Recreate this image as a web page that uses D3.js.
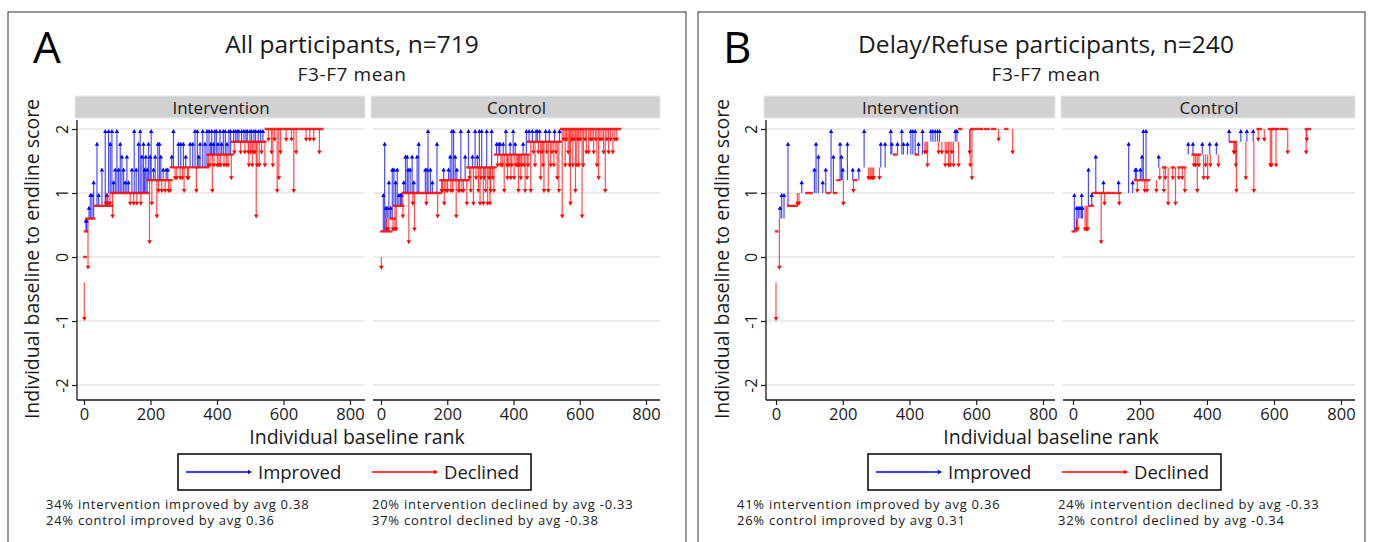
<!DOCTYPE html>
<html>
<head>
<meta charset="utf-8">
<script src="https://cdn.jsdelivr.net/npm/d3@7"></script>
<style>
body{margin:0;background:#fff;}
svg{display:block;font-family:"Open Sans",sans-serif;}
</style>
</head>
<body>
<svg id="chart" width="1373" height="542"></svg>
<script>
// ---- data : [rank, baseline score, endline score]
var aIntArrows = [
 [1,-0.4,-1.0],[6,0.4,0.6],[8,0.4,0.6],[12,0.6,-0.2],[15,0.6,0.8],[19,0.6,1.0],[24,0.6,1.0],[29,0.6,1.2],
 [39,0.8,1.8],[44,0.8,1.0],[54,0.8,1.4],[64,0.8,2.0],[66,1.0,0.8],[69,0.8,1.0],[72,1.0,0.8],[74,1.0,2.0],
 [78,1.0,0.8],[79,1.0,1.8],[84,1.0,2.0],[86,1.0,0.6],[89,1.0,1.2],[94,1.0,1.4],[99,1.0,2.0],[104,1.0,1.4],
 [109,1.0,1.8],[114,1.0,1.6],[119,1.0,1.4],[124,1.0,1.2],[129,1.0,1.6],[134,1.0,1.2],[139,1.0,0.8],[144,1.0,1.4],
 [149,1.0,0.8],[151,1.0,2.0],[157,1.0,1.4],[159,1.0,0.8],[164,1.0,1.8],[169,1.0,2.0],[171,1.0,0.8],[174,1.0,1.6],
 [179,1.0,1.8],[182,1.0,1.4],[186,1.0,1.6],[190,1.0,1.4],[194,1.2,1.8],[197,1.2,0.2],[199,1.2,1.6],[202,1.2,2.0],
 [204,1.2,0.8],[209,1.2,1.4],[214,1.2,1.6],[219,1.2,0.6],[222,1.2,1.8],[224,1.2,1.0],[227,1.2,1.8],[231,1.2,1.6],
 [234,1.2,1.0],[238,1.2,1.4],[244,1.2,1.0],[247,1.2,1.4],[252,1.2,1.4],[254,1.2,1.0],[259,1.2,1.0],
 [264,1.4,1.6],[269,1.4,2.0],[274,1.4,1.2],[279,1.4,1.2],[284,1.4,1.8],[289,1.4,1.2],[291,1.4,1.8],[296,1.4,1.2],
 [299,1.4,1.8],[301,1.4,1.0],[306,1.4,1.6],[311,1.4,1.2],[314,1.4,1.2],[319,1.4,1.8],[327,1.4,1.8],[334,1.4,2.0],
 [338,1.4,1.0],[341,1.4,2.0],[345,1.4,1.6],[349,1.4,1.8],[357,1.4,2.0],[364,1.4,1.8],[370,1.4,2.0],
 [374,1.6,1.4],[376,1.6,2.0],[379,1.6,1.4],[381,1.6,1.8],[384,1.6,2.0],[386,1.6,1.0],[389,1.6,1.8],[391,1.6,1.4],
 [393,1.6,2.0],[398,1.6,2.0],[401,1.6,1.4],[403,1.6,1.8],[406,1.6,1.4],[409,1.6,2.0],[411,1.6,1.4],[414,1.6,1.8],
 [419,1.6,2.0],[421,1.6,1.4],[425,1.6,2.0],[428,1.6,1.4],[430,1.6,1.8],[433,1.6,1.4],[436,1.6,2.0],[441,1.6,2.0],
 [443,1.6,1.2],[450,1.8,2.0],[452,1.8,1.6],[456,1.8,2.0],[461,1.8,2.0],[466,1.8,2.0],[471,1.8,1.6],[474,1.8,2.0],
 [481,1.8,2.0],[484,1.8,1.6],[487,1.8,2.0],[491,1.8,2.0],[494,1.8,1.6],[496,1.8,1.4],[499,1.8,2.0],[501,1.8,1.6],
 [504,1.8,2.0],[506,1.8,1.4],[509,1.8,1.6],[511,1.8,2.0],[514,1.8,1.6],[516,1.8,2.0],[518,1.8,0.6],[521,1.8,1.4],
 [524,1.8,2.0],[527,1.8,1.4],[531,1.8,2.0],[534,1.8,1.6],[538,1.8,2.0],[544,1.8,1.4],
 [555,2.0,1.8],[564,2.0,1.6],[568,2.0,1.4],[573,2.0,1.8],[581,2.0,1.0],[586,2.0,1.2],[591,2.0,1.6],[608,2.0,1.8],
 [624,2.0,1.8],[631,2.0,1.0],[638,2.0,1.6],[668,2.0,1.8],[679,2.0,1.8],[691,2.0,1.8],[708,2.0,1.6]
];
var aCtlArrows = [
 [1,0.0,-0.2],[7,0.4,1.0],[11,0.4,1.8],[15,0.4,0.8],[17,0.6,0.4],[19,0.6,0.8],[22,0.6,0.4],[24,0.6,1.2],
 [29,0.6,0.8],[34,0.6,1.4],[36,0.6,0.4],[39,0.8,1.4],[42,0.8,0.4],[44,0.8,1.2],[46,0.8,0.4],[49,0.8,1.4],
 [54,0.8,1.0],[59,0.8,1.0],[62,0.8,1.0],[66,1.0,0.6],[69,1.0,1.2],[74,1.0,1.6],[79,1.0,1.6],[82,1.0,1.4],
 [84,1.0,0.2],[88,1.0,1.4],[94,1.0,1.6],[96,1.0,0.8],[99,1.0,1.2],[101,1.0,0.4],[109,1.0,1.6],[114,1.0,1.8],
 [134,1.0,1.4],[137,1.0,0.8],[139,1.0,1.4],[142,1.0,2.0],[149,1.0,1.4],[155,1.0,1.2],[169,1.0,1.8],[171,1.0,0.6],
 [183,1.2,1.0],[186,1.2,1.0],[189,1.2,1.4],[191,1.2,0.8],[196,1.2,1.0],[201,1.2,1.0],[204,1.2,1.4],[209,1.2,1.6],
 [211,1.2,1.0],[214,1.2,2.0],[216,1.2,1.0],[219,1.2,2.0],[224,1.2,1.6],[227,1.2,0.6],[229,1.2,1.4],[234,1.2,1.0],
 [237,1.2,1.0],[241,1.2,2.0],[244,1.2,1.0],[249,1.2,1.0],[254,1.2,1.6],[259,1.2,0.8],
 [264,1.4,2.0],[267,1.4,1.2],[271,1.4,1.0],[276,1.4,1.6],[279,1.4,0.8],[284,1.4,2.0],[287,1.4,1.2],[291,1.4,1.6],
 [294,1.4,1.0],[297,1.4,2.0],[299,1.4,0.8],[302,1.4,1.2],[304,1.4,2.0],[309,1.4,0.8],[312,1.4,1.2],[316,1.4,1.0],
 [319,1.4,2.0],[322,1.4,0.8],[326,1.4,1.2],[329,1.4,0.8],[331,1.4,1.0],[334,1.4,2.0],[337,1.4,1.2],[341,1.4,1.0],
 [349,1.6,1.8],[352,1.6,1.4],[356,1.6,1.8],[359,1.6,1.8],[362,1.6,1.4],[366,1.6,1.4],[369,1.6,1.8],[372,1.6,1.0],
 [377,1.6,2.0],[380,1.6,1.4],[382,1.6,1.2],[386,1.6,1.4],[390,1.6,1.8],[392,1.6,1.2],[395,1.6,1.4],[399,1.6,2.0],
 [402,1.6,1.2],[405,1.6,1.8],[408,1.6,1.4],[412,1.6,1.4],[415,1.6,1.0],[418,1.6,1.4],[422,1.6,1.2],[425,1.6,1.4],
 [429,1.6,1.8],[432,1.6,1.4],[435,1.6,1.0],[439,1.6,2.0],[441,1.6,1.2],[444,1.6,1.4],
 [447,1.8,2.0],[452,1.8,1.0],[457,1.8,2.0],[460,1.8,1.6],[465,1.8,1.4],[468,1.8,2.0],[472,1.8,2.0],[475,1.8,1.6],
 [479,1.8,2.0],[482,1.8,1.2],[486,1.8,1.6],[489,1.8,1.4],[492,1.8,1.0],[497,1.8,2.0],[500,1.8,1.6],[505,1.8,1.0],
 [508,1.8,2.0],[512,1.8,1.4],[516,1.8,1.6],[522,1.8,1.4],[524,1.8,2.0],[528,1.8,1.6],[532,1.8,1.2],[537,1.8,1.0],
 [539,1.8,2.0],[547,2.0,0.6],[552,2.0,1.8],[556,2.0,1.4],[560,2.0,1.8],[565,2.0,1.6],[569,2.0,1.4],[572,2.0,0.8],
 [576,2.0,1.8],[579,2.0,1.4],[583,2.0,1.8],[587,2.0,1.0],[591,2.0,1.4],[594,2.0,1.8],[597,2.0,1.4],[602,2.0,1.8],
 [607,2.0,0.6],[611,2.0,1.4],[616,2.0,1.8],[620,2.0,1.6],[627,2.0,1.6],[632,2.0,1.8],[637,2.0,1.8],[642,2.0,1.6],
 [648,2.0,1.8],[652,2.0,1.4],[657,2.0,1.2],[661,2.0,1.8],[667,2.0,1.8],[672,2.0,1.6],[677,2.0,1.0],[682,2.0,1.8],
 [687,2.0,1.6],[693,2.0,1.8],[700,2.0,1.6],[706,2.0,1.8],[712,2.0,1.8]
];
var bIntArrows = [
 [0,-0.4,-1.0],[10,0.6,-0.2],[12,0.6,0.8],[17,0.6,1.0],[24,0.6,1.0],[36,0.8,1.8],[64,1.0,0.8],[69,1.0,0.8],
 [77,1.0,1.2],[115,1.0,1.4],[120,1.0,1.8],[127,1.0,1.6],[140,1.0,1.2],[149,1.0,1.4],[165,1.0,2.0],[172,1.0,1.6],
 [192,1.2,1.8],[196,1.2,1.6],[200,1.2,1.4],[202,1.2,0.8],[214,1.2,1.8],[230,1.2,1.4],[232,1.2,1.0],[248,1.2,1.4],
 [264,1.4,2.0],[277,1.4,1.2],[282,1.4,1.2],[285,1.4,1.2],[290,1.4,1.2],[293,1.4,1.2],[310,1.4,1.2],[314,1.4,1.8],
 [327,1.4,1.8],[344,1.6,2.0],[347,1.6,1.8],[364,1.6,1.8],[377,1.6,2.0],[382,1.6,1.8],[394,1.6,1.8],[404,1.6,2.0],
 [410,1.6,2.0],[417,1.6,2.0],[427,1.6,1.8],[439,1.6,2.0],[446,1.8,1.6],[450,1.8,1.6],[454,1.8,1.4],[464,1.8,2.0],
 [470,1.8,2.0],[477,1.8,2.0],[484,1.8,2.0],[487,1.8,1.6],[490,1.8,2.0],[497,1.8,1.6],[507,1.8,1.4],[512,1.8,1.6],
 [517,1.8,1.4],[522,1.8,1.4],[527,1.8,1.6],[532,1.8,1.4],[537,1.8,2.0],[542,1.8,2.0],[547,1.8,1.4],
 [580,2.0,1.6],[582,2.0,1.4],[587,2.0,1.2],[667,2.0,1.8],[709,2.0,1.6]
];
var bCtlArrows = [
 [4,0.4,1.0],[10,0.6,0.4],[11,0.4,0.8],[14,0.6,0.4],[16,0.6,0.8],[21,0.6,0.8],[26,0.6,1.0],[28,0.6,0.8],
 [36,0.8,0.4],[40,0.8,0.4],[44,0.8,0.4],[46,0.8,1.4],[56,0.8,1.0],[68,1.0,1.6],[84,1.0,0.2],[91,1.0,1.2],
 [94,1.0,0.8],[136,1.0,1.2],[138,1.0,0.8],[166,1.0,1.8],[178,1.0,1.2],[186,1.2,1.4],[189,1.2,1.4],[192,1.2,1.0],
 [201,1.2,1.4],[206,1.2,1.6],[210,1.2,2.0],[214,1.2,1.0],[218,1.2,2.0],[221,1.2,1.0],[249,1.2,1.0],[256,1.4,1.6],
 [259,1.4,1.2],[271,1.4,1.0],[276,1.4,1.2],[284,1.4,0.8],[298,1.4,1.2],[306,1.4,0.8],[316,1.4,1.2],[326,1.4,1.2],
 [334,1.4,1.0],[344,1.6,1.8],[358,1.6,1.8],[361,1.6,1.4],[366,1.6,1.4],[371,1.6,1.0],[376,1.6,1.4],[386,1.6,1.8],
 [390,1.6,1.2],[396,1.6,1.4],[402,1.6,1.2],[408,1.6,1.8],[410,1.6,1.4],[428,1.6,1.8],[434,1.6,1.4],[466,1.8,2.0],
 [480,1.8,1.6],[483,1.8,1.6],[486,1.8,1.4],[488,1.8,1.0],[501,1.8,2.0],[516,1.8,1.2],[519,1.8,2.0],[538,1.8,2.0],
 [540,1.8,1.0],[553,2.0,1.8],[571,2.0,1.8],[589,2.0,1.4],[593,2.0,1.4],[606,2.0,1.4],[641,2.0,1.6],[696,2.0,1.6],
 [698,2.0,1.8]
];

// unchanged participants : [first rank, last rank, score]
var aIntSame = [[2,4,0.0],[4,8,0.4],[8,30,0.6],[34,84,0.8],[84,192,1.0],[192,262,1.2],[262,372,1.4],[372,446,1.6],[446,544,1.8],[548,716,2.0]];
var aCtlSame = [[2,30,0.4],[30,40,0.6],[40,66,0.8],[66,180,1.0],[180,262,1.2],[262,345,1.4],[345,445,1.6],[445,541,1.8],[545,720,2.0]];
var bIntSame = [[1,3,0.4],[37,62,0.8],[92,106,1.0],[155,159,1.0],[175,179,1.0],[185,189,1.2],[235,239,1.2],[355,359,1.6],[420,424,1.6],[550,554,2.0],[586,600,2.0],[608,616,2.0],[628,636,2.0],[648,656,2.0],[688,692,2.0]];
var bCtlSame = [[0,6,0.4],[50,58,0.8],[60,122,1.0],[132,140,1.0],[186,226,1.2],[270,275,1.4],[296,300,1.4],[316,334,1.4],[358,378,1.6],[470,484,1.8],[552,560,2.0],[586,596,2.0],[600,612,2.0],[622,636,2.0],[696,706,2.0]];

var yTicks = [-2,-1,0,1,2];
var xTicks = [0,200,400,600,800];
var facetNames = ["Intervention","Control"];
var legendLabels = ["Improved","Declined"];
var panelLetters = ["A","B"];
var panelTitles = ["All participants, n=719","Delay/Refuse participants, n=240"];
var subTitle = "F3-F7 mean";
var yTitle = "Individual baseline to endline score";
var xTitle = "Individual baseline rank";
var notesA = ["34% intervention improved by avg 0.38","24% control improved by avg 0.36","20% intervention declined by avg -0.33","37% control declined by avg -0.38"];
var notesB = ["41% intervention improved by avg 0.36","26% control improved by avg 0.31","24% intervention declined by avg -0.33","32% control declined by avg -0.34"];

var BLUE = "#0000ff", RED = "#ff0000", INK = "#1a1a1a";

var svg = d3.select("#chart");
var yScale = d3.scaleLinear().domain([-2,2]).range([385,129]);

function arrowHead(g, x, y, dir, col){
	// dir = -1 pointing up, +1 pointing down
	g.append("path")
		.attr("d", "M" + x + "," + y + "L" + (x-2.2) + "," + (y - dir*4) + "L" + (x+2.2) + "," + (y - dir*4) + "Z")
		.attr("fill", col);
}

function drawFacet(g, f, name, arrows, same, withYAxis){
	var xScale = d3.scaleLinear().domain([0,800]).range([f.r0, f.r800]);

	// strip
	g.append("rect").attr("x", f.left - 2).attr("y", 96).attr("width", f.right - f.left + 2).attr("height", 22)
		.attr("fill", "#d1d1d1").attr("stroke", "#e3eaf0").attr("stroke-width", 1);
	g.append("text").attr("x", (f.left + f.right)/2).attr("y", 113.5).attr("text-anchor","middle")
		.attr("font-size", 17).attr("fill", INK).text(name);

	// grid
	yTicks.forEach(function(t){
		g.append("line").attr("x1", f.left).attr("x2", f.right).attr("y1", yScale(t)).attr("y2", yScale(t))
			.attr("stroke", "#e6e6e6").attr("stroke-width", 1.5);
	});

	var up = arrows.filter(function(d){ return d[2] > d[1]; });
	var down = arrows.filter(function(d){ return d[2] < d[1]; });

	up.forEach(function(d){
		var x = xScale(d[0]);
		g.append("line").attr("x1", x).attr("x2", x).attr("y1", yScale(d[1])).attr("y2", yScale(d[2]) + 2)
			.attr("stroke", BLUE).attr("stroke-width", 1.2).attr("stroke-opacity", 0.7);
		arrowHead(g, x, yScale(d[2]), -1, BLUE);
	});
	down.forEach(function(d){
		var x = xScale(d[0]);
		g.append("line").attr("x1", x).attr("x2", x).attr("y1", yScale(d[1])).attr("y2", yScale(d[2]) - 2)
			.attr("stroke", RED).attr("stroke-width", 1.2).attr("stroke-opacity", 0.7);
		arrowHead(g, x, yScale(d[2]), 1, RED);
	});
	same.forEach(function(d){
		g.append("line").attr("x1", xScale(d[0]) - 1.5).attr("x2", xScale(d[1]) + 1.5)
			.attr("y1", yScale(d[2])).attr("y2", yScale(d[2]))
			.attr("stroke", RED).attr("stroke-width", 2.4).attr("stroke-opacity", 0.85);
	});

	// x axis
	var xAxis = d3.axisBottom(xScale).tickValues(xTicks).tickSize(5).tickSizeOuter(0).tickPadding(3)
		.tickFormat(function(d){ return String(d); });
	var ax = g.append("g").attr("transform", "translate(0,400)").call(xAxis);
	ax.select(".domain").remove();
	ax.append("line").attr("x1", f.left).attr("x2", f.right).attr("y1", 0).attr("y2", 0)
		.attr("stroke", INK).attr("stroke-width", 1.3);
	ax.selectAll(".tick line").attr("stroke", INK).attr("stroke-width", 1.2);
	ax.selectAll(".tick text").attr("font-size", 16.5).attr("fill", INK).attr("font-family", "Open Sans");

	if(withYAxis){
		var yAxis = d3.axisLeft(yScale).tickValues(yTicks).tickSize(5).tickSizeOuter(0)
			.tickFormat(function(d){ return String(d); });
		var ay = g.append("g").attr("transform", "translate(" + f.left + ",0)").call(yAxis);
		ay.select(".domain").remove();
		ay.append("line").attr("x1", 0).attr("x2", 0).attr("y1", 120).attr("y2", 400)
			.attr("stroke", INK).attr("stroke-width", 1.3);
		ay.selectAll(".tick line").attr("stroke", INK).attr("stroke-width", 1.2);
		ay.selectAll(".tick text")
			.attr("x", null).attr("dy", null)
			.attr("transform", "translate(-9,0) rotate(-90)")
			.attr("text-anchor", "middle")
			.attr("font-size", 16).attr("fill", INK).attr("font-family", "Open Sans");
	}
}

function drawPanel(p, idx, data, notes){
	var g = svg.append("g");
	g.append("rect").attr("x", p.frame[0]).attr("y", p.frame[1]).attr("width", p.frame[2]).attr("height", 560)
		.attr("fill", "none").attr("stroke", "#555").attr("stroke-width", 1.2);

	g.append("text").attr("x", p.letterX).attr("y", 63).attr("font-size", 44).attr("fill", "#000").text(panelLetters[idx]);
	g.append("text").attr("x", p.cx).attr("y", 53).attr("text-anchor","middle").attr("font-size", 24.5).attr("fill", INK).text(panelTitles[idx]);
	g.append("text").attr("x", p.cx).attr("y", 81).attr("text-anchor","middle").attr("font-size", 19).attr("fill", INK)
		.attr("letter-spacing", 0.6).text(subTitle);

	drawFacet(g, p.facets[0], facetNames[0], data[0], data[1], true);
	drawFacet(g, p.facets[1], facetNames[1], data[2], data[3], false);

	g.append("text").attr("transform", "translate(" + p.yTitleX + ",259) rotate(-90)").attr("text-anchor","middle")
		.attr("font-size", 19.5).attr("fill", INK).text(yTitle);
	g.append("text").attr("x", p.cx + 5).attr("y", 444).attr("text-anchor","middle")
		.attr("font-size", 19.5).attr("fill", INK).text(xTitle);

	// legend
	var lg = g.append("g").attr("transform", "translate(" + p.legendX + ",454)");
	lg.append("rect").attr("width", 353).attr("height", 36).attr("fill", "#fff").attr("stroke", "#000").attr("stroke-width", 1.5);
	[BLUE, RED].forEach(function(c, i){
		var x0 = 8 + i*186;
		lg.append("line").attr("x1", x0).attr("x2", x0 + 62).attr("y1", 18).attr("y2", 18).attr("stroke", c).attr("stroke-width", 1.3);
		lg.append("path").attr("d", "M" + (x0+66) + ",18L" + (x0+62) + ",15.8L" + (x0+62) + ",20.2Z").attr("fill", c);
		lg.append("text").attr("x", x0 + 72).attr("y", 25).attr("font-size", 18.5).attr("fill", INK).text(legendLabels[i]);
	});

	// notes
	notes.forEach(function(t, i){
		g.append("text").attr("x", i < 2 ? p.noteX[0] : p.noteX[1]).attr("y", 509 + (i % 2)*15.5)
			.attr("font-size", 13).attr("letter-spacing", 0.75).attr("fill", INK).text(t);
	});
}

drawPanel({
	frame: [8, 12, 678], letterX: 33, cx: 352, yTitleX: 39, legendX: 178, noteX: [46, 372],
	facets: [{left:77, right:365, r0:84, r800:350}, {left:373, right:660, r0:381, r800:646}]
}, 0, [aIntArrows, aIntSame, aCtlArrows, aCtlSame], notesA);

drawPanel({
	frame: [698, 12, 667], letterX: 723, cx: 1046, yTitleX: 729, legendX: 868, noteX: [737, 1058],
	facets: [{left:766, right:1055, r0:776, r800:1043}, {left:1063, right:1355, r0:1073, r800:1341}]
}, 1, [bIntArrows, bIntSame, bCtlArrows, bCtlSame], notesB);
</script>
</body>
</html>
